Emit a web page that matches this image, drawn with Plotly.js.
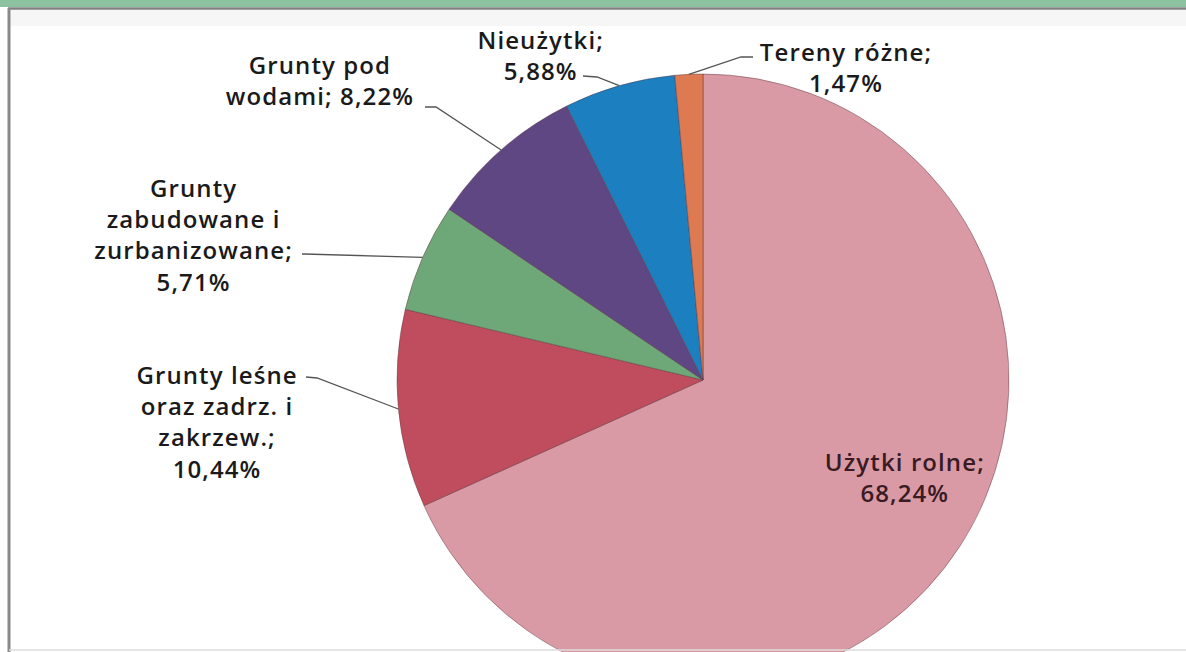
<!DOCTYPE html>
<html>
<head>
<meta charset="utf-8">
<script src="https://cdn.plot.ly/plotly-3.0.1.min.js"></script>
<style>
  html, body { margin: 0; padding: 0; background: #ffffff; overflow: hidden; }
  #wrap { width: 1186px; height: 652px; overflow: hidden; position: relative; }
  #chart { width: 1186px; height: 700px; }
  #chart .annotation-text { letter-spacing: 1.1px; }
</style>
</head>
<body>
<div id="wrap"><div id="chart"></div></div>
<script>
// ---- data ----
const categories = ['Użytki rolne', 'Grunty leśne oraz zadrz. i zakrzew.', 'Grunty zabudowane i zurbanizowane', 'Grunty pod wodami', 'Nieużytki', 'Tereny różne'];
const values = [68.24, 10.44, 5.71, 8.22, 5.88, 1.47];
const labelTemplates = [
  'Użytki rolne;<br>{v}',
  'Grunty leśne<br>oraz zadrz. i<br>zakrzew.;<br>{v}',
  'Grunty<br>zabudowane i<br>zurbanizowane;<br>{v}',
  'Grunty pod<br>wodami; {v}',
  'Nieużytki;<br>{v}',
  'Tereny różne;<br>{v}'
];
const colors = ['#d99aa5', '#bf4d5d', '#6fa878', '#5f4784', '#1b7fc0', '#dd7a52'];

// ---- layout geometry (pixels) ----
const W = 1186, H = 700;
const cx = 703, cy = 380, r = 306;
const labelPos = [[905, 477], [217, 421], [193, 234], [320, 80], [540, 55], [846, 67]];
const elbows = [null, [[306, 377], [317, 378]], [[302, 254], [304, 254]], [[425, 107], [436, 107]], [[583, 76], [597, 77]], [[753, 57], [741, 57]]];
const textColors = ['#3a1b24', '#1a1a1a', '#1a1a1a', '#1a1a1a', '#1a1a1a', '#1a1a1a'];

const px = x => x / W;
const py = y => 1 - y / H;
const fmt = v => v.toFixed(2).replace('.', ',') + '%';

const total = values.reduce((a, b) => a + b, 0);
let cum = 0;
const midAngles = values.map(v => { const m = (cum + v / 2) / total * 360; cum += v; return m; });

const annotations = labelTemplates.map((t, i) => ({
  xref: 'paper', yref: 'paper',
  x: px(labelPos[i][0]), y: py(labelPos[i][1]),
  xanchor: 'center', yanchor: 'middle', align: 'center',
  showarrow: false,
  text: t.replace('{v}', fmt(values[i])),
  font: { family: 'Open Sans, Lato, sans-serif', size: 24, color: textColors[i], weight: 600 }
}));

const shapes = [];
// frame decoration
shapes.push({ type: 'rect', xref: 'paper', yref: 'paper', x0: 0, x1: 1, y0: py(7), y1: py(0), fillcolor: '#8dc2a0', line: { width: 0 } });
shapes.push({ type: 'rect', xref: 'paper', yref: 'paper', x0: px(10), x1: 1, y0: py(26), y1: py(10), fillcolor: '#f6f6f6', line: { width: 0 }, layer: 'below' });
shapes.push({ type: 'line', xref: 'paper', yref: 'paper', x0: px(8), x1: 1, y0: py(8.5), y1: py(8.5), line: { color: '#808080', width: 2.5 } });
shapes.push({ type: 'line', xref: 'paper', yref: 'paper', x0: px(9), x1: px(9), y0: py(8), y1: py(652), line: { color: '#8a8a8a', width: 3 } });
shapes.push({ type: 'line', xref: 'paper', yref: 'paper', x0: px(9), x1: 1, y0: py(650), y1: py(650), line: { color: '#dddddd', width: 1.5 } });

// leader lines computed from slice geometry
elbows.forEach((e, i) => {
  if (!e) return;
  const a = midAngles[i] * Math.PI / 180;
  const ex = cx + r * Math.sin(a), ey = cy - r * Math.cos(a);
  const path = `M ${px(e[0][0])} ${py(e[0][1])} L ${px(e[1][0])} ${py(e[1][1])} L ${px(ex)} ${py(ey)}`;
  shapes.push({ type: 'path', xref: 'paper', yref: 'paper', path: path, line: { color: '#555555', width: 1.3 } });
});

const trace = {
  type: 'pie',
  labels: categories,
  values: values,
  sort: false,
  direction: 'clockwise',
  rotation: 0,
  textinfo: 'none',
  hoverinfo: 'label+percent',
  marker: { colors: colors, line: { color: 'rgba(90,50,60,0.45)', width: 1 } },
  domain: { x: [px(cx - r), px(cx + r)], y: [py(cy + r), py(cy - r)] }
};

const layout = {
  width: W, height: H,
  margin: { l: 0, r: 0, t: 0, b: 0 },
  paper_bgcolor: '#ffffff',
  showlegend: false,
  annotations: annotations,
  shapes: shapes
};

Plotly.newPlot('chart', [trace], layout, { displayModeBar: false, staticPlot: true });
</script>
</body>
</html>
